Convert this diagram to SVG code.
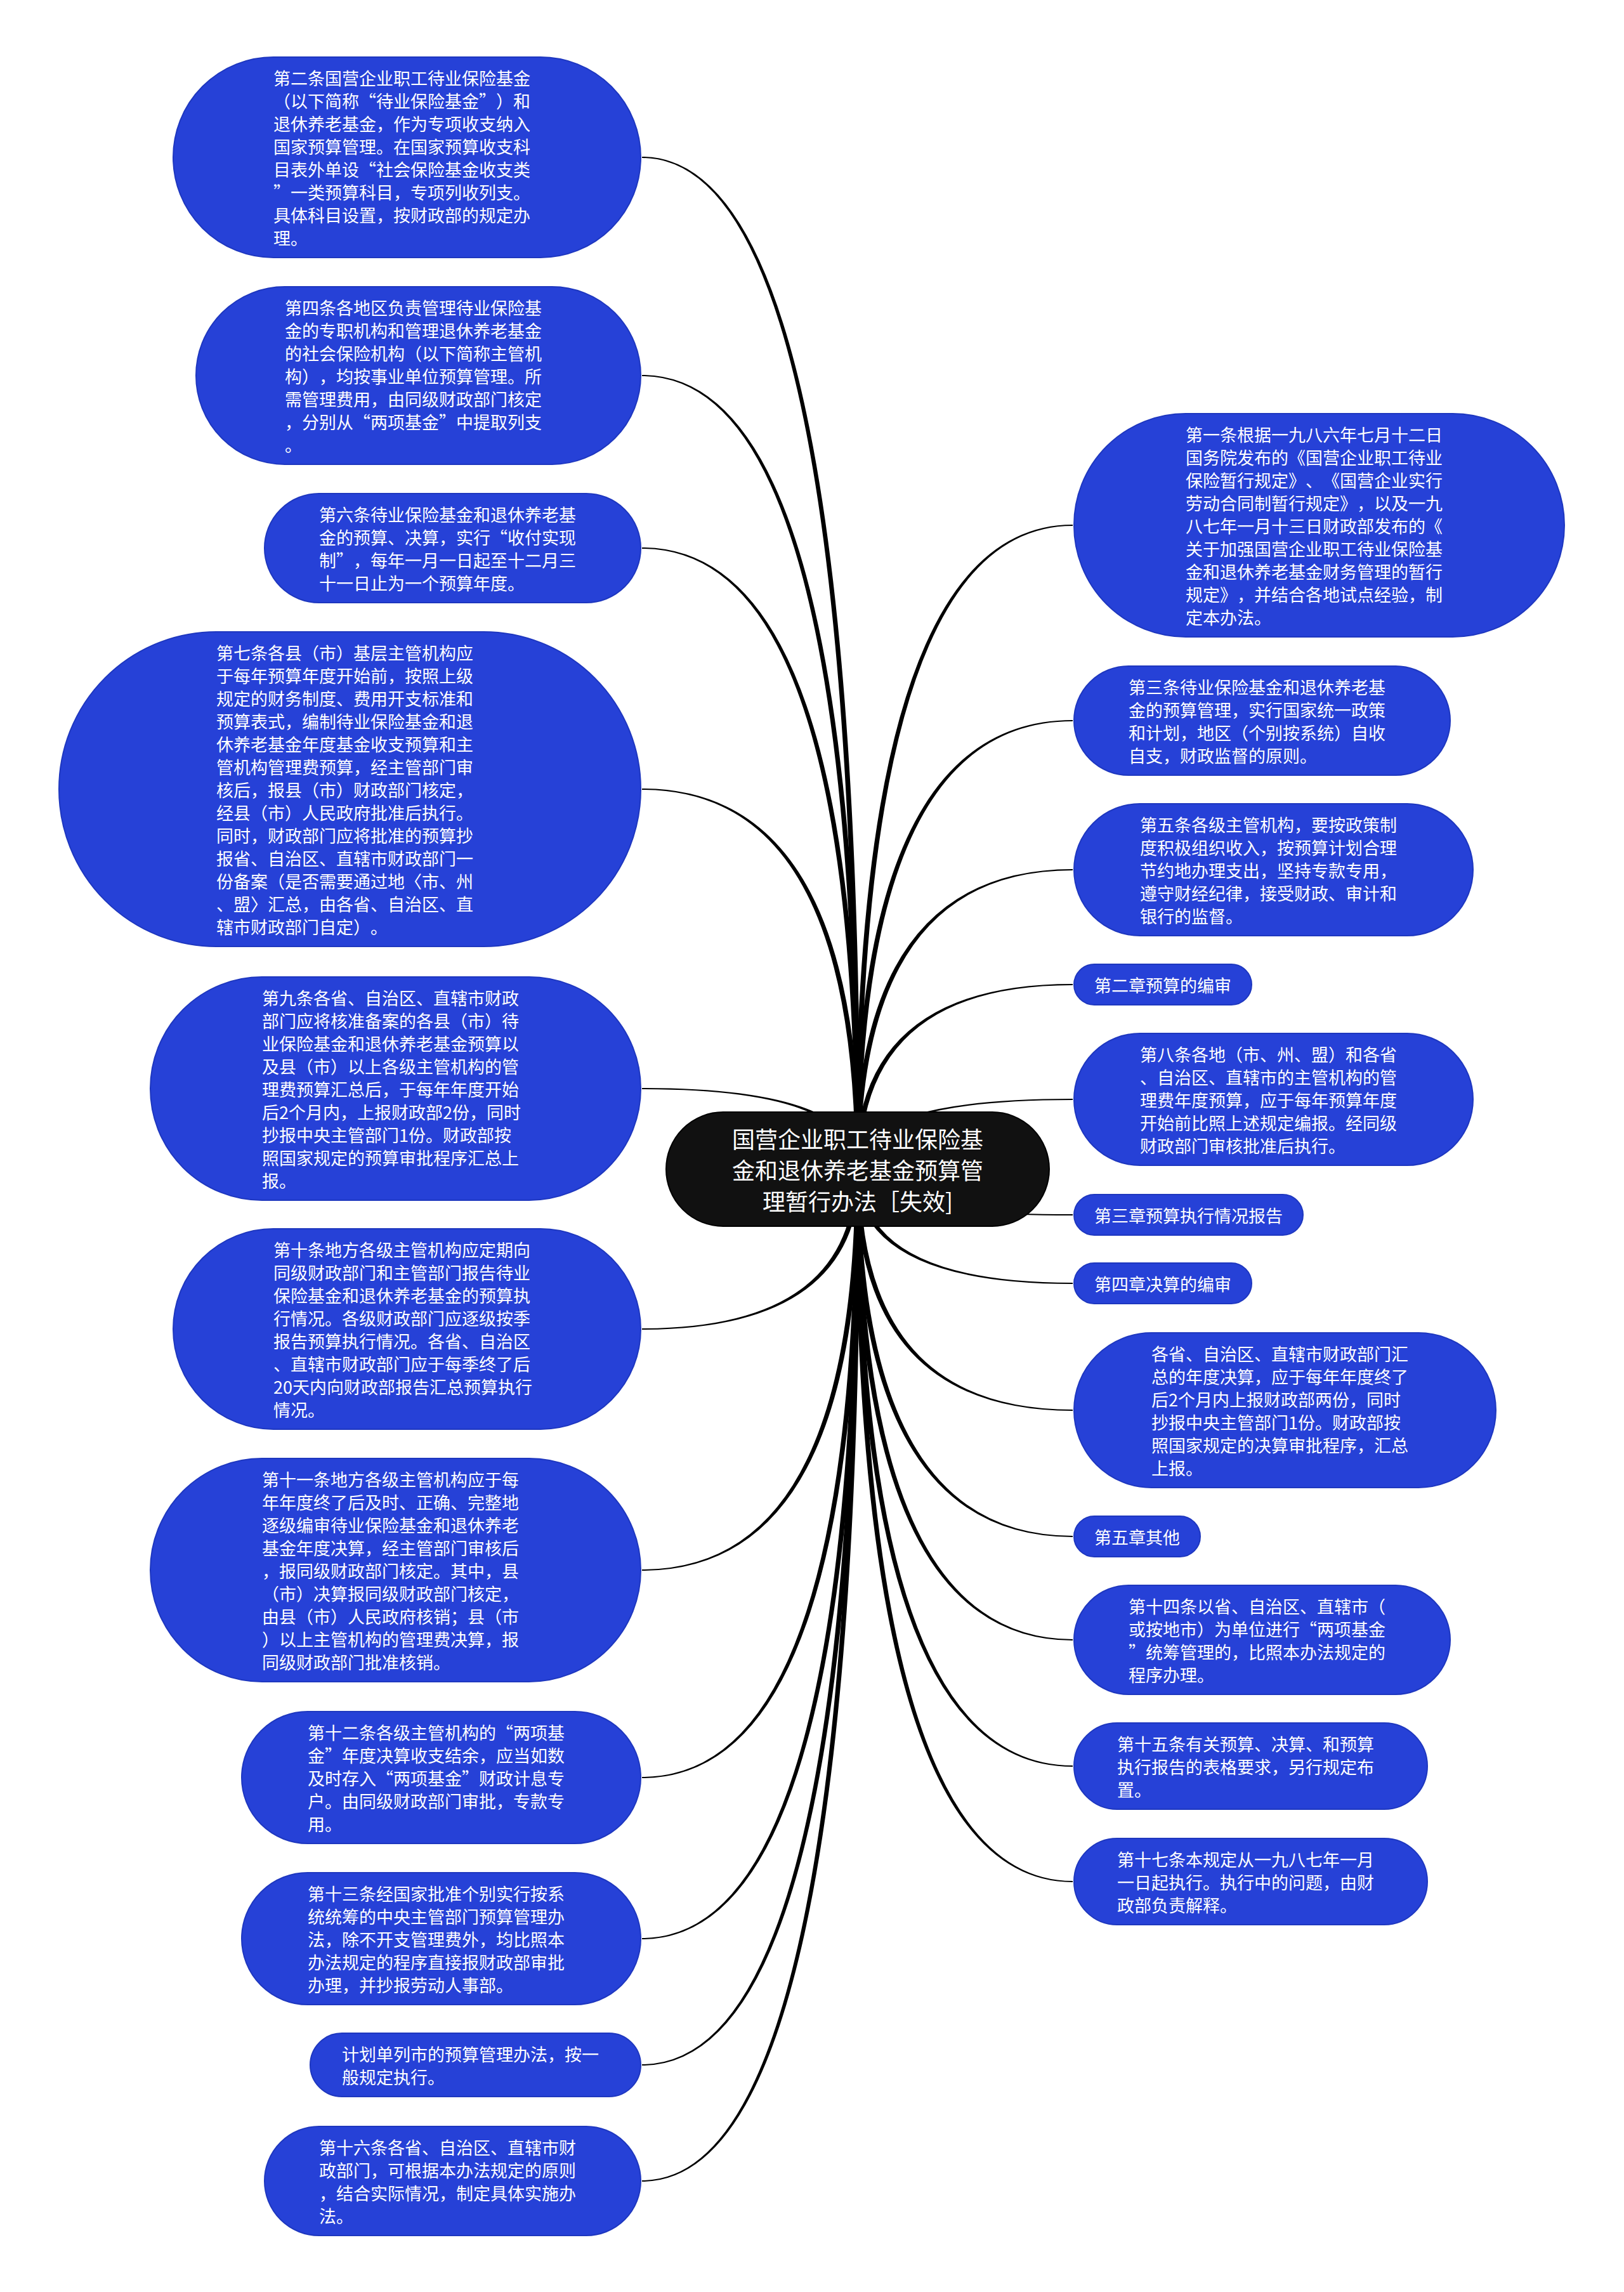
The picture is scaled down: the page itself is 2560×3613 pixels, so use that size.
<svg xmlns="http://www.w3.org/2000/svg" width="2560" height="3613" viewBox="0 0 2560 3613">
<style>
.bg{fill:#ffffff}
.link{fill:#000000;stroke:none}
.node rect{fill:#2641d7;stroke:#1e37bf;stroke-width:2}
.node text{fill:#ffffff;font-family:"Noto Sans CJK SC","Noto Sans",sans-serif;font-size:27px;dominant-baseline:central;text-spacing-trim:space-all;font-kerning:none}
.root rect{fill:#111111;stroke:#000000;stroke-width:2}
.root text{fill:#ffffff;font-family:"Noto Sans CJK SC","Noto Sans",sans-serif;font-size:36px;dominant-baseline:central;text-anchor:middle;text-spacing-trim:space-all}
</style>
<rect class="bg" x="0" y="0" width="2560" height="3613"/>
<g id="connectors">
<path class="link" d="M1356 1843Q1356 247 1012 247L1012 249Q1348 249 1348 1843Z"/>
<path class="link" d="M1356 1843Q1356 591 1012 591L1012 593Q1348 593 1348 1843Z"/>
<path class="link" d="M1356 1843Q1356 863 1012 863L1012 865Q1348 865 1348 1843Z"/>
<path class="link" d="M1356 1843Q1356 1243 1012 1243L1012 1245Q1348 1245 1348 1843Z"/>
<path class="link" d="M1356 1843Q1356 1715 1012 1715L1012 1717Q1348 1717 1348 1843Z"/>
<path class="link" d="M1356 1843Q1356 2096 1012 2096L1012 2094Q1348 2094 1348 1843Z"/>
<path class="link" d="M1356 1843Q1356 2476 1012 2476L1012 2474Q1348 2474 1348 1843Z"/>
<path class="link" d="M1356 1843Q1356 2803 1012 2803L1012 2801Q1348 2801 1348 1843Z"/>
<path class="link" d="M1356 1843Q1356 3057 1012 3057L1012 3055Q1348 3055 1348 1843Z"/>
<path class="link" d="M1356 1843Q1356 3256 1012 3256L1012 3254Q1348 3254 1348 1843Z"/>
<path class="link" d="M1356 1843Q1356 3439 1012 3439L1012 3437Q1348 3437 1348 1843Z"/>
<path class="link" d="M1348 1843Q1348 827 1691 827L1691 829Q1356 829 1356 1843Z"/>
<path class="link" d="M1348 1843Q1348 1135 1691 1135L1691 1137Q1356 1137 1356 1843Z"/>
<path class="link" d="M1348 1843Q1348 1370 1691 1370L1691 1372Q1356 1372 1356 1843Z"/>
<path class="link" d="M1348 1843Q1348 1551 1691 1551L1691 1553Q1356 1553 1356 1843Z"/>
<path class="link" d="M1348 1843Q1348 1732 1691 1732L1691 1734Q1356 1734 1356 1843Z"/>
<path class="link" d="M1348 1843Q1348 1916 1691 1916L1691 1914Q1356 1914 1356 1843Z"/>
<path class="link" d="M1348 1843Q1348 2024 1691 2024L1691 2022Q1356 2022 1356 1843Z"/>
<path class="link" d="M1348 1843Q1348 2224 1691 2224L1691 2222Q1356 2222 1356 1843Z"/>
<path class="link" d="M1348 1843Q1348 2423 1691 2423L1691 2421Q1356 2421 1356 1843Z"/>
<path class="link" d="M1348 1843Q1348 2586 1691 2586L1691 2584Q1356 2584 1356 1843Z"/>
<path class="link" d="M1348 1843Q1348 2785 1691 2785L1691 2783Q1356 2783 1356 1843Z"/>
<path class="link" d="M1348 1843Q1348 2967 1691 2967L1691 2965Q1356 2965 1356 1843Z"/>
</g>
<g id="n-l1" class="node"><rect x="273" y="90" width="737" height="316" rx="158" ry="158"/>
<text><tspan x="431" y="122">第二条国营企业职工待业保险基金</tspan><tspan x="431" y="158">（以下简称“待业保险基金”）和</tspan><tspan x="431" y="194">退休养老基金，作为专项收支纳入</tspan><tspan x="431" y="230">国家预算管理。在国家预算收支科</tspan><tspan x="431" y="266">目表外单设“社会保险基金收支类</tspan><tspan x="431" y="302">”一类预算科目，专项列收列支。</tspan><tspan x="431" y="338">具体科目设置，按财政部的规定办</tspan><tspan x="431" y="374">理。</tspan></text></g>
<g id="n-l2" class="node"><rect x="309" y="452" width="701" height="280" rx="140" ry="140"/>
<text><tspan x="449" y="484">第四条各地区负责管理待业保险基</tspan><tspan x="449" y="520">金的专职机构和管理退休养老基金</tspan><tspan x="449" y="556">的社会保险机构（以下简称主管机</tspan><tspan x="449" y="592">构），均按事业单位预算管理。所</tspan><tspan x="449" y="628">需管理费用，由同级财政部门核定</tspan><tspan x="449" y="664">，分别从“两项基金”中提取列支</tspan><tspan x="449" y="700">。</tspan></text></g>
<g id="n-l3" class="node"><rect x="417" y="778" width="593" height="172" rx="86" ry="86"/>
<text><tspan x="503" y="810">第六条待业保险基金和退休养老基</tspan><tspan x="503" y="846">金的预算、决算，实行“收付实现</tspan><tspan x="503" y="882">制”，每年一月一日起至十二月三</tspan><tspan x="503" y="918">十一日止为一个预算年度。</tspan></text></g>
<g id="n-l4" class="node"><rect x="93" y="996" width="917" height="496" rx="248" ry="248"/>
<text><tspan x="341" y="1028">第七条各县（市）基层主管机构应</tspan><tspan x="341" y="1064">于每年预算年度开始前，按照上级</tspan><tspan x="341" y="1100">规定的财务制度、费用开支标准和</tspan><tspan x="341" y="1136">预算表式，编制待业保险基金和退</tspan><tspan x="341" y="1172">休养老基金年度基金收支预算和主</tspan><tspan x="341" y="1208">管机构管理费预算，经主管部门审</tspan><tspan x="341" y="1244">核后，报县（市）财政部门核定，</tspan><tspan x="341" y="1280">经县（市）人民政府批准后执行。</tspan><tspan x="341" y="1316">同时，财政部门应将批准的预算抄</tspan><tspan x="341" y="1352">报省、自治区、直辖市财政部门一</tspan><tspan x="341" y="1388">份备案（是否需要通过地〈市、州</tspan><tspan x="341" y="1424">、盟〉汇总，由各省、自治区、直</tspan><tspan x="341" y="1460">辖市财政部门自定）。</tspan></text></g>
<g id="n-l5" class="node"><rect x="237" y="1540" width="773" height="352" rx="176" ry="176"/>
<text><tspan x="413" y="1572">第九条各省、自治区、直辖市财政</tspan><tspan x="413" y="1608">部门应将核准备案的各县（市）待</tspan><tspan x="413" y="1644">业保险基金和退休养老基金预算以</tspan><tspan x="413" y="1680">及县（市）以上各级主管机构的管</tspan><tspan x="413" y="1716">理费预算汇总后，于每年年度开始</tspan><tspan x="413" y="1752">后2个月内，上报财政部2份，同时</tspan><tspan x="413" y="1788">抄报中央主管部门1份。财政部按</tspan><tspan x="413" y="1824">照国家规定的预算审批程序汇总上</tspan><tspan x="413" y="1860">报。</tspan></text></g>
<g id="n-l6" class="node"><rect x="273" y="1937" width="737" height="316" rx="158" ry="158"/>
<text><tspan x="431" y="1969">第十条地方各级主管机构应定期向</tspan><tspan x="431" y="2005">同级财政部门和主管部门报告待业</tspan><tspan x="431" y="2041">保险基金和退休养老基金的预算执</tspan><tspan x="431" y="2077">行情况。各级财政部门应逐级按季</tspan><tspan x="431" y="2113">报告预算执行情况。各省、自治区</tspan><tspan x="431" y="2149">、直辖市财政部门应于每季终了后</tspan><tspan x="431" y="2185">20天内向财政部报告汇总预算执行</tspan><tspan x="431" y="2221">情况。</tspan></text></g>
<g id="n-l7" class="node"><rect x="237" y="2299" width="773" height="352" rx="176" ry="176"/>
<text><tspan x="413" y="2331">第十一条地方各级主管机构应于每</tspan><tspan x="413" y="2367">年年度终了后及时、正确、完整地</tspan><tspan x="413" y="2403">逐级编审待业保险基金和退休养老</tspan><tspan x="413" y="2439">基金年度决算，经主管部门审核后</tspan><tspan x="413" y="2475">，报同级财政部门核定。其中，县</tspan><tspan x="413" y="2511">（市）决算报同级财政部门核定，</tspan><tspan x="413" y="2547">由县（市）人民政府核销；县（市</tspan><tspan x="413" y="2583">）以上主管机构的管理费决算，报</tspan><tspan x="413" y="2619">同级财政部门批准核销。</tspan></text></g>
<g id="n-l8" class="node"><rect x="381" y="2698" width="629" height="208" rx="104" ry="104"/>
<text><tspan x="485" y="2730">第十二条各级主管机构的“两项基</tspan><tspan x="485" y="2766">金”年度决算收支结余，应当如数</tspan><tspan x="485" y="2802">及时存入“两项基金”财政计息专</tspan><tspan x="485" y="2838">户。由同级财政部门审批，专款专</tspan><tspan x="485" y="2874">用。</tspan></text></g>
<g id="n-l9" class="node"><rect x="381" y="2952" width="629" height="208" rx="104" ry="104"/>
<text><tspan x="485" y="2984">第十三条经国家批准个别实行按系</tspan><tspan x="485" y="3020">统统筹的中央主管部门预算管理办</tspan><tspan x="485" y="3056">法，除不开支管理费外，均比照本</tspan><tspan x="485" y="3092">办法规定的程序直接报财政部审批</tspan><tspan x="485" y="3128">办理，并抄报劳动人事部。</tspan></text></g>
<g id="n-l10" class="node"><rect x="489" y="3205" width="521" height="100" rx="50" ry="50"/>
<text><tspan x="539" y="3237">计划单列市的预算管理办法，按一</tspan><tspan x="539" y="3273">般规定执行。</tspan></text></g>
<g id="n-l11" class="node"><rect x="417" y="3352" width="593" height="172" rx="86" ry="86"/>
<text><tspan x="503" y="3384">第十六条各省、自治区、直辖市财</tspan><tspan x="503" y="3420">政部门，可根据本办法规定的原则</tspan><tspan x="503" y="3456">，结合实际情况，制定具体实施办</tspan><tspan x="503" y="3492">法。</tspan></text></g>
<g id="n-r1" class="node"><rect x="1693" y="652" width="773" height="352" rx="176" ry="176"/>
<text><tspan x="1869" y="684">第一条根据一九八六年七月十二日</tspan><tspan x="1869" y="720">国务院发布的《国营企业职工待业</tspan><tspan x="1869" y="756">保险暂行规定》、《国营企业实行</tspan><tspan x="1869" y="792">劳动合同制暂行规定》，以及一九</tspan><tspan x="1869" y="828">八七年一月十三日财政部发布的《</tspan><tspan x="1869" y="864">关于加强国营企业职工待业保险基</tspan><tspan x="1869" y="900">金和退休养老基金财务管理的暂行</tspan><tspan x="1869" y="936">规定》，并结合各地试点经验，制</tspan><tspan x="1869" y="972">定本办法。</tspan></text></g>
<g id="n-r2" class="node"><rect x="1693" y="1050" width="593" height="172" rx="86" ry="86"/>
<text><tspan x="1779" y="1082">第三条待业保险基金和退休养老基</tspan><tspan x="1779" y="1118">金的预算管理，实行国家统一政策</tspan><tspan x="1779" y="1154">和计划，地区（个别按系统）自收</tspan><tspan x="1779" y="1190">自支，财政监督的原则。</tspan></text></g>
<g id="n-r3" class="node"><rect x="1693" y="1267" width="629" height="208" rx="104" ry="104"/>
<text><tspan x="1797" y="1299">第五条各级主管机构，要按政策制</tspan><tspan x="1797" y="1335">度积极组织收入，按预算计划合理</tspan><tspan x="1797" y="1371">节约地办理支出，坚持专款专用，</tspan><tspan x="1797" y="1407">遵守财经纪律，接受财政、审计和</tspan><tspan x="1797" y="1443">银行的监督。</tspan></text></g>
<g id="n-r4" class="node"><rect x="1693" y="1520" width="280" height="64" rx="32" ry="32"/>
<text><tspan x="1725" y="1552">第二章预算的编审</tspan></text></g>
<g id="n-r5" class="node"><rect x="1693" y="1629" width="629" height="208" rx="104" ry="104"/>
<text><tspan x="1797" y="1661">第八条各地（市、州、盟）和各省</tspan><tspan x="1797" y="1697">、自治区、直辖市的主管机构的管</tspan><tspan x="1797" y="1733">理费年度预算，应于每年预算年度</tspan><tspan x="1797" y="1769">开始前比照上述规定编报。经同级</tspan><tspan x="1797" y="1805">财政部门审核批准后执行。</tspan></text></g>
<g id="n-r6" class="node"><rect x="1693" y="1883" width="361" height="64" rx="32" ry="32"/>
<text><tspan x="1725" y="1915">第三章预算执行情况报告</tspan></text></g>
<g id="n-r7" class="node"><rect x="1693" y="1991" width="280" height="64" rx="32" ry="32"/>
<text><tspan x="1725" y="2023">第四章决算的编审</tspan></text></g>
<g id="n-r8" class="node"><rect x="1693" y="2101" width="665" height="244" rx="122" ry="122"/>
<text><tspan x="1815" y="2133">各省、自治区、直辖市财政部门汇</tspan><tspan x="1815" y="2169">总的年度决算，应于每年年度终了</tspan><tspan x="1815" y="2205">后2个月内上报财政部两份，同时</tspan><tspan x="1815" y="2241">抄报中央主管部门1份。财政部按</tspan><tspan x="1815" y="2277">照国家规定的决算审批程序，汇总</tspan><tspan x="1815" y="2313">上报。</tspan></text></g>
<g id="n-r9" class="node"><rect x="1693" y="2390" width="199" height="64" rx="32" ry="32"/>
<text><tspan x="1725" y="2422">第五章其他</tspan></text></g>
<g id="n-r10" class="node"><rect x="1693" y="2499" width="593" height="172" rx="86" ry="86"/>
<text><tspan x="1779" y="2531">第十四条以省、自治区、直辖市（</tspan><tspan x="1779" y="2567">或按地市）为单位进行“两项基金</tspan><tspan x="1779" y="2603">”统筹管理的，比照本办法规定的</tspan><tspan x="1779" y="2639">程序办理。</tspan></text></g>
<g id="n-r11" class="node"><rect x="1693" y="2716" width="557" height="136" rx="68" ry="68"/>
<text><tspan x="1761" y="2748">第十五条有关预算、决算、和预算</tspan><tspan x="1761" y="2784">执行报告的表格要求，另行规定布</tspan><tspan x="1761" y="2820">置。</tspan></text></g>
<g id="n-r12" class="node"><rect x="1693" y="2898" width="557" height="136" rx="68" ry="68"/>
<text><tspan x="1761" y="2930">第十七条本规定从一九八七年一月</tspan><tspan x="1761" y="2966">一日起执行。执行中的问题，由财</tspan><tspan x="1761" y="3002">政部负责解释。</tspan></text></g>
<g id="n-root" class="root"><rect x="1050" y="1753" width="604" height="180" rx="90" ry="90"/>
<text><tspan x="1352" y="1794">国营企业职工待业保险基</tspan><tspan x="1352" y="1843">金和退休养老基金预算管</tspan><tspan x="1352" y="1892">理暂行办法［失效]</tspan></text></g>
</svg>
